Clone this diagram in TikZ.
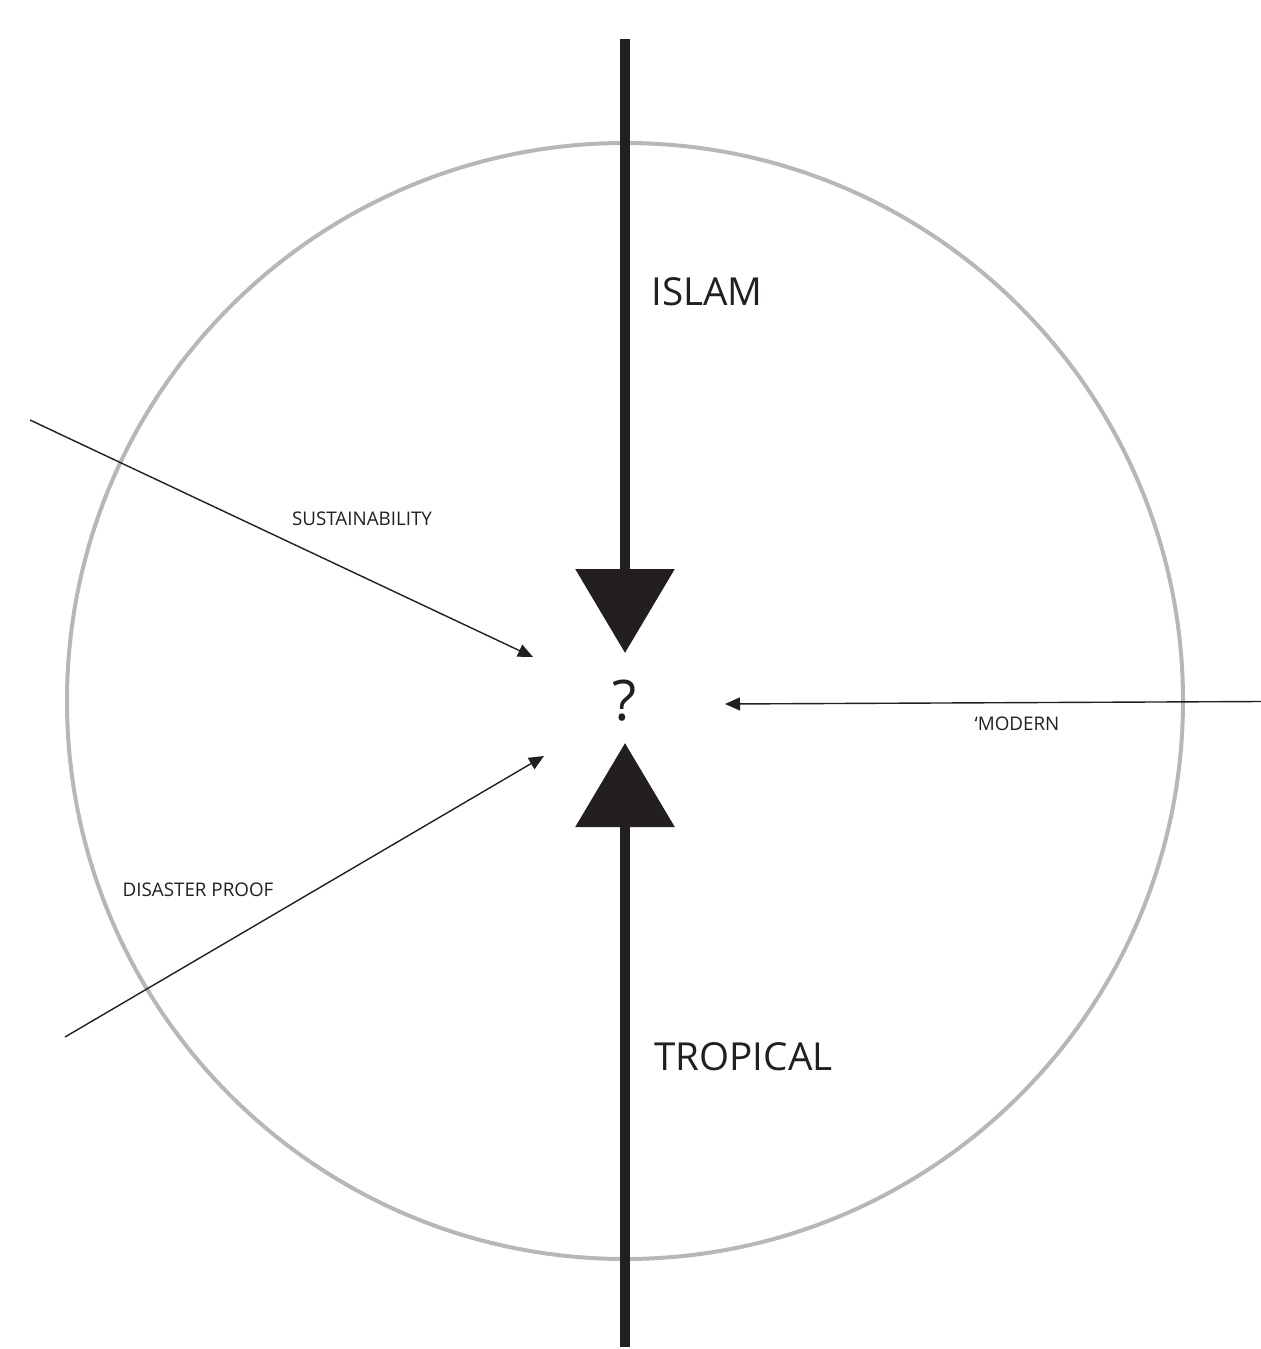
\documentclass[tikz,border=0pt]{standalone}
\usepackage{fontspec}
\setmainfont{Open Sans}
\usetikzlibrary{arrows.meta}
\definecolor{ink}{HTML}{231F20}
\definecolor{ring}{HTML}{B8B6B7}
\tikzset{
  bigarrow/.style={draw=ink, line width=5pt, -{Triangle[length=42pt,width=48.5pt]}, color=ink},
  thinarrow/.style={draw=ink, line width=0.7pt, -{Triangle[length=7.5pt,width=6.5pt]}, color=ink},
  biglabel/.style={font=\fontsize{19.3}{21}\selectfont, text=ink, inner sep=0pt, anchor=west},
  smalllabel/.style={font=\fontsize{9.4}{11}\selectfont, text=ink, inner sep=0pt},
}
\begin{document}
\begin{tikzpicture}[x=0.5pt,y=-0.5pt]
\useasboundingbox (0,0) rectangle (1261,1349);
\draw[ring, line width=2pt] (625,701) circle[radius=558];
\node[font=\fontsize{28}{30}\selectfont, text=ink, inner sep=0pt] (q) at (625,701) {?};
\coordinate (islamstart) at (625,39);
\coordinate (islamtip) at (625,653);
\coordinate (tropstart) at (625,1347);
\coordinate (troptip) at (625,743);
\coordinate (susstart) at (30,420);
\coordinate (sustip) at (533,657);
\coordinate (disstart) at (65,1037);
\coordinate (distip) at (544,756);
\coordinate (modstart) at (1261,701.5);
\coordinate (modtip) at (725,704);
\draw[bigarrow] (islamstart) -- (islamtip);
\draw[bigarrow] (tropstart) -- (troptip);
\draw[thinarrow] (susstart) -- (sustip);
\draw[thinarrow] (disstart) -- (distip);
\draw[thinarrow] (modstart) -- (modtip);
\node[biglabel] (islam) at (651,292) {ISLAM};
\node[biglabel] (tropical) at (654,1057) {TROPICAL};
\node[smalllabel] (sus) at (362,519) {SUSTAINABILITY};
\node[smalllabel] (dis) at (198,890) {DISASTER PROOF};
\node[smalllabel] (mod) at (1017,724) {‘MODERN};
\end{tikzpicture}
\end{document}
